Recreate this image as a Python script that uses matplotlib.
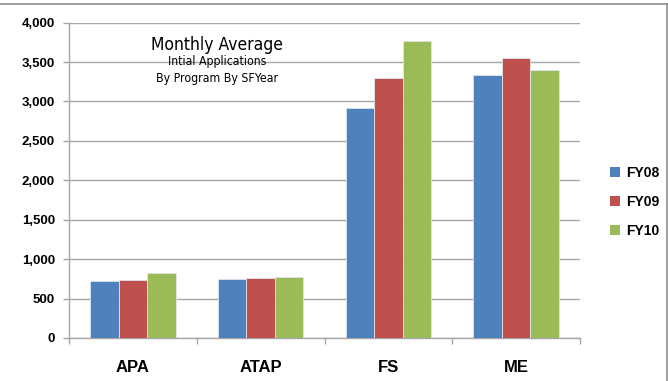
import matplotlib.pyplot as plt
from matplotlib.lines import Line2D
from matplotlib.patches import Patch
from matplotlib.ticker import FuncFormatter, FixedLocator
import numpy as np

programs = ['APA', 'ATAP', 'FS', 'ME']
years = ['FY08', 'FY09', 'FY10']
fy08 = [727, 744, 2912, 3330]
fy09 = [735, 757, 3300, 3552]
fy10 = [824, 773, 3770, 3394]
colors = ['#4F81BD', '#C0504D', '#9BBB59']

fig = plt.figure(figsize=(6.68, 3.81), dpi=100)
ax = fig.add_axes([0.1033, 0.1129, 0.765, 0.8276])

x = np.arange(len(programs))
w = 0.223
for i, (vals, c) in enumerate(zip([fy08, fy09, fy10], colors)):
    ax.bar(x + (i - 1) * w, vals, w, color=c, edgecolor='#dde4ee',
           linewidth=0.6, zorder=3)

ax.set_xlim(-0.5, 3.5)
ax.set_ylim(0, 4000)
ax.set_yticks(range(0, 4001, 500))
ax.yaxis.set_major_formatter(FuncFormatter(lambda v, p: f'{int(v):,}'))
ax.grid(axis='y', color='#a6a6a6', linewidth=1.0, zorder=0)
ax.set_axisbelow(True)

for s in ['top', 'right']:
    ax.spines[s].set_visible(False)
for s in ['left', 'bottom']:
    ax.spines[s].set_color('#a6a6a6')
    ax.spines[s].set_linewidth(1.0)

ax.set_xticks(x)
ax.set_xticklabels(programs, fontsize=12, fontweight='bold',
                   family='Liberation Sans')
ax.xaxis.set_minor_locator(FixedLocator([-0.5, 0.5, 1.5, 2.5, 3.5]))
ax.tick_params(axis='x', which='major', length=0, pad=16)
ax.tick_params(axis='x', which='minor', length=4.5, color='#a6a6a6',
               width=1.0)
ax.tick_params(axis='y', length=4, color='#a6a6a6', width=1.0, pad=6,
               labelsize=9.5)
for lab in ax.get_yticklabels():
    lab.set_fontweight('bold')
    lab.set_family('Liberation Sans')

# chart title block
title_font = dict(family=['DejaVu Sans'], fontstretch='condensed')
ax.text(0.29, 0.928, 'Monthly Average', transform=ax.transAxes,
        ha='center', va='center', fontsize=12.5, **title_font)
ax.text(0.29, 0.876, 'Intial Applications', transform=ax.transAxes,
        ha='center', va='center', fontsize=8.8, **title_font)
ax.text(0.29, 0.824, 'By Program By SFYear', transform=ax.transAxes,
        ha='center', va='center', fontsize=8.8, **title_font)

handles = [Patch(facecolor=c, edgecolor='none') for c in colors]
leg = fig.legend(handles, years, loc='center left',
                 bbox_to_anchor=(0.895, 0.47), frameon=False,
                 handlelength=0.7, handleheight=0.7, handletextpad=0.4,
                 labelspacing=1.1,
                 prop={'family': 'Liberation Sans', 'weight': 'bold',
                       'size': 10})

# outer chart border
fig.add_artist(Line2D([0, 0.9985], [0.9895, 0.9895],
                      transform=fig.transFigure, color='#8c8c8c', lw=1.2))
fig.add_artist(Line2D([0.9985, 0.9985], [0, 0.9895],
                      transform=fig.transFigure, color='#8c8c8c', lw=1.2))

fig.savefig('out.png', dpi=100)
